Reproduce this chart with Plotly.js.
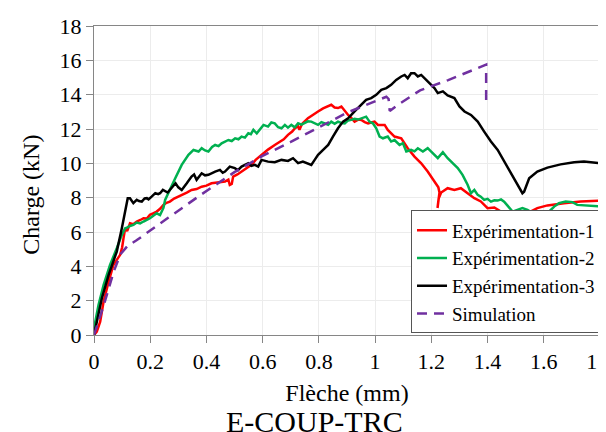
<!DOCTYPE html>
<html><head><meta charset="utf-8">
<script src="https://cdn.plot.ly/plotly-3.0.1.min.js"></script></head>
<body><div id="c"></div>
<script>
// Expérimentation-1 (red)
const exp1X = [0.000,0.010,0.022,0.034,0.052,0.069,0.093,0.100,0.105,0.111,0.118,0.128,0.140,0.152,0.165,0.176,0.188,0.199,0.212,0.223,0.235,0.247,0.258,0.270,0.285,0.300,0.315,0.330,0.347,0.365,0.383,0.400,0.418,0.440,0.466,0.478,0.483,0.490,0.495,0.510,0.525,0.540,0.560,0.575,0.596,0.619,0.643,0.660,0.675,0.690,0.705,0.715,0.726,0.731,0.740,0.761,0.780,0.797,0.815,0.833,0.844,0.856,0.868,0.880,0.892,0.904,0.915,0.927,0.940,0.951,0.963,0.975,0.998,1.010,1.034,1.045,1.069,1.093,1.116,1.140,1.164,1.187,1.211,1.225,1.229,1.224,1.222,1.226,1.235,1.258,1.282,1.305,1.329,1.353,1.376,1.400,1.424,1.447,1.471,1.489,1.506,1.518,1.528,1.542,1.577,1.613,1.672,1.731,1.796];
const exp1Y = [0.00,0.20,0.78,1.94,3.11,4.08,4.67,5.10,5.64,6.22,6.05,6.51,6.45,6.61,6.70,6.80,6.78,7.00,7.10,7.19,7.35,7.58,7.70,7.77,7.95,8.06,8.15,8.30,8.45,8.50,8.64,8.70,8.84,8.88,8.94,9.05,8.74,8.80,9.23,9.35,9.52,9.70,9.91,10.20,10.49,10.80,11.07,11.25,11.40,11.66,11.85,12.05,12.15,11.95,12.30,12.63,12.85,13.02,13.20,13.31,13.41,13.25,13.22,13.31,13.05,12.82,12.65,12.43,12.55,12.53,12.40,12.33,12.43,12.24,12.24,11.95,11.56,11.46,10.88,10.39,10.00,9.52,8.94,8.60,8.30,7.80,7.40,7.95,8.30,8.55,8.45,8.55,8.26,7.97,7.78,7.39,7.43,7.19,6.80,6.71,6.90,6.80,6.61,7.10,7.39,7.55,7.68,7.78,7.82];

// Expérimentation-2 (green)
const exp2X = [0.000,0.016,0.034,0.057,0.081,0.099,0.111,0.117,0.128,0.140,0.152,0.164,0.176,0.188,0.199,0.211,0.223,0.235,0.247,0.253,0.262,0.271,0.289,0.312,0.336,0.354,0.372,0.383,0.395,0.407,0.420,0.431,0.443,0.454,0.466,0.478,0.490,0.502,0.514,0.525,0.537,0.549,0.558,0.567,0.579,0.591,0.603,0.619,0.631,0.643,0.655,0.667,0.679,0.690,0.702,0.714,0.726,0.738,0.750,0.761,0.773,0.785,0.797,0.809,0.821,0.833,0.844,0.856,0.868,0.880,0.892,0.904,0.915,0.927,0.939,0.951,0.968,0.980,0.992,1.004,1.016,1.028,1.045,1.057,1.069,1.087,1.099,1.111,1.128,1.140,1.152,1.170,1.187,1.205,1.223,1.241,1.258,1.276,1.294,1.311,1.329,1.341,1.353,1.365,1.376,1.388,1.400,1.412,1.424,1.436,1.448,1.459,1.477,1.489,1.506,1.524,1.542,1.560,1.577,1.595,1.607,1.619,1.637,1.654,1.678,1.702,1.719,1.743,1.796];
const exp2Y = [0.39,1.75,2.91,4.08,5.05,5.83,6.22,6.25,6.35,6.41,6.55,6.50,6.61,6.70,6.80,6.95,7.09,6.99,7.40,7.87,8.20,8.55,9.13,9.91,10.49,10.78,10.69,10.88,10.75,10.69,10.95,11.07,11.00,11.17,11.25,11.36,11.30,11.46,11.40,11.56,11.50,11.75,11.70,11.95,11.75,12.00,12.24,12.14,12.38,12.33,12.10,12.04,12.24,12.08,12.24,12.10,12.33,12.25,12.33,12.45,12.43,12.35,12.24,12.40,12.33,12.25,12.43,12.30,12.43,12.35,12.33,12.50,12.53,12.60,12.55,12.62,12.72,12.43,12.33,12.04,11.56,11.46,11.56,11.27,11.36,11.07,11.17,10.69,10.78,10.70,10.88,10.69,10.88,10.59,10.30,10.65,10.30,10.01,9.72,9.33,8.75,8.26,8.45,8.16,8.06,7.87,7.93,7.77,7.85,7.83,7.90,7.77,7.39,7.19,7.29,7.39,7.29,7.10,7.00,6.90,6.76,7.19,7.48,7.68,7.78,7.74,7.58,7.54,7.49];

// Expérimentation-3 (black)
const exp3X = [0.000,0.010,0.028,0.052,0.081,0.099,0.111,0.120,0.128,0.135,0.140,0.152,0.160,0.170,0.180,0.188,0.194,0.205,0.218,0.228,0.235,0.245,0.253,0.262,0.275,0.290,0.300,0.312,0.330,0.347,0.356,0.365,0.383,0.395,0.407,0.420,0.431,0.448,0.458,0.466,0.483,0.501,0.512,0.525,0.549,0.560,0.572,0.584,0.596,0.619,0.643,0.667,0.690,0.708,0.726,0.743,0.761,0.773,0.785,0.797,0.815,0.833,0.850,0.868,0.886,0.904,0.927,0.951,0.968,0.986,1.004,1.022,1.040,1.057,1.075,1.093,1.105,1.116,1.128,1.140,1.152,1.164,1.175,1.193,1.211,1.223,1.241,1.258,1.282,1.300,1.318,1.341,1.365,1.388,1.412,1.436,1.459,1.483,1.507,1.524,1.530,1.548,1.577,1.613,1.660,1.708,1.743,1.796];
const exp3Y = [0.00,0.78,2.14,3.50,4.86,6.22,7.19,7.97,7.97,7.75,7.68,7.87,7.80,7.77,7.95,7.97,7.90,8.06,8.26,8.20,8.26,8.45,8.40,8.30,8.55,8.84,8.60,8.45,8.84,9.23,9.35,9.04,9.42,9.30,9.33,9.45,9.52,9.62,9.45,9.52,9.81,9.72,9.60,9.81,10.01,9.85,9.91,9.81,10.20,10.10,10.06,10.20,10.14,10.30,10.01,10.10,10.01,9.91,10.20,10.49,10.78,11.07,11.56,12.04,12.43,12.62,13.02,13.41,13.70,13.80,13.99,14.28,14.38,14.57,14.86,15.06,15.15,14.96,15.25,15.25,15.06,15.15,14.96,14.67,14.38,14.09,14.19,13.95,13.80,13.31,13.02,12.82,12.43,11.85,11.27,10.78,10.10,9.42,8.74,8.26,8.35,9.13,9.52,9.75,9.94,10.06,10.10,10.01];

// Simulation (purple dashed)
const simX = [0.000,0.035,0.070,0.094,0.120,0.150,0.265,0.383,0.501,0.596,0.700,0.800,0.900,0.960,1.040,1.048,1.052,1.080,1.160,1.260,1.392,1.395,1.395];
const simY = [0.00,1.75,3.69,4.70,5.20,5.50,6.84,8.20,9.50,10.40,11.25,12.10,12.95,13.35,13.88,13.75,13.05,13.40,14.25,14.85,15.75,15.75,13.60];

const seriesNames = ["Expérimentation-1","Expérimentation-2","Expérimentation-3","Simulation"];
const xTicks = [0,0.2,0.4,0.6,0.8,1,1.2,1.4,1.6,1.8];
const xTickText = ["0","0.2","0.4","0.6","0.8","1","1.2","1.4","1.6","1.8"];
const yTicks = [0,2,4,6,8,10,12,14,16,18];

const FONT = "Liberation Serif";

Plotly.newPlot("c", [
  {x: exp1X, y: exp1Y, name: seriesNames[0], mode: "lines", line: {color: "#ff0000", width: 2.5}},
  {x: exp2X, y: exp2Y, name: seriesNames[1], mode: "lines", line: {color: "#00b050", width: 2.5}},
  {x: exp3X, y: exp3Y, name: seriesNames[2], mode: "lines", line: {color: "#000000", width: 2.5}},
  {x: simX, y: simY, name: seriesNames[3], mode: "lines", line: {color: "#7030a0", width: 2.5, dash: "10px,7px"}}
], {
  width: 606, height: 432,
  margin: {l: 86, r: 14, t: 18, b: 105},
  font: {family: FONT, color: "#000"},
  xaxis: {
    showline: true, linecolor: "#868686", mirror: true,
    ticks: "outside", ticklen: 7, tickcolor: "#868686",
    gridcolor: "#ececec", zeroline: false,
    tickfont: {family: FONT, size: 22},
    range: [0, 1.8], tickvals: xTicks, ticktext: xTickText,
    title: {text: "Flèche (mm)", font: {family: FONT, size: 24}, standoff: 10}
  },
  yaxis: {
    showline: true, linecolor: "#868686", mirror: true,
    ticks: "outside", ticklen: 7, tickcolor: "#868686",
    gridcolor: "#ececec", zeroline: false,
    tickfont: {family: FONT, size: 22},
    range: [0, 18], tickvals: yTicks
  },
  legend: {
    x: 1.002, xanchor: "right", y: 0.005, yanchor: "bottom",
    bgcolor: "#fff", bordercolor: "#555", borderwidth: 1,
    font: {family: FONT, size: 19}
  },
  annotations: [
    {text: "Charge (kN)", xref: "paper", yref: "paper", x: -0.125, y: 0.453,
     xanchor: "center", yanchor: "middle", textangle: -90, showarrow: false,
     font: {family: FONT, size: 24}},
    {text: "E-COUP-TRC", xref: "paper", yref: "paper", x: 0.435, y: -0.28,
     xanchor: "center", yanchor: "middle", showarrow: false,
     font: {family: FONT, size: 30}}
  ]
}, {staticPlot: true, displayModeBar: false});
</script></body></html>
